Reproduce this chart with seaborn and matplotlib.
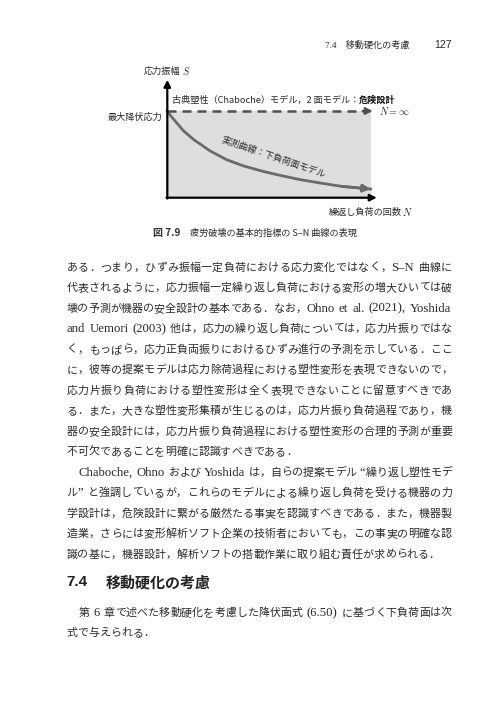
import re
import matplotlib
matplotlib.use('Agg')
import pandas as pd
import matplotlib.pyplot as plt
import seaborn as sns

# S-N curve (N in arbitrary units, S relative to max yield stress)
cycles = [0.0, 0.15, 0.4, 0.8, 1.3, 2.1, 2.9, 3.7, 4.6, 5.5, 6.5, 7.5, 8.6, 10.0]
amplitude = [1.0, 0.95, 0.88, 0.77, 0.67, 0.54, 0.44, 0.37, 0.31, 0.26, 0.21, 0.17, 0.13, 0.10]
yield_level = 1.0
region_end = 10.0
dashed_end = 10.1
x_axis_end = 10.3
y_axis_end = 1.36

# figure labels
s_label = '応力振幅'
yield_label = '最大降伏応力'
classic_label = '古典塑性（Chaboche）モデル，2 面モデル：'
danger_label = '危険設計'
curve_label = '実測曲線：下負荷面モデル'
n_label = '繰返し負荷の回数'
caption_num = '図 7.9'
caption_text = '疲労破壊の基本的指標の S–N 曲線の表現'

# page text
header_title = '7.4　移動硬化の考慮'
page_number = '127'
para1 = [
    'ある．つまり，ひずみ振幅一定負荷における応力変化ではなく，S–N 曲線に',
    '代表されるように，応力振幅一定繰り返し負荷における変形の増大ひいては破',
    '壊の予測が機器の安全設計の基本である．なお，Ohno et al. (2021), Yoshida',
    'and Uemori (2003) 他は，応力の繰り返し負荷については，応力片振りではな',
    'く，もっぱら，応力正負両振りにおけるひずみ進行の予測を示している．ここ',
    'に，彼等の提案モデルは応力除荷過程における塑性変形を表現できないので，',
    '応力片振り負荷における塑性変形は全く表現できないことに留意すべきであ',
    'る．また，大きな塑性変形集積が生じるのは，応力片振り負荷過程であり，機',
    '器の安全設計には，応力片振り負荷過程における塑性変形の合理的予測が重要',
    '不可欠であることを明確に認識すべきである．',
]
para2 = [
    'Chaboche, Ohno および Yoshida は，自らの提案モデル “繰り返し塑性モデ',
    'ル” と強調しているが，これらのモデルによる繰り返し負荷を受ける機器の力',
    '学設計は，危険設計に繋がる厳然たる事実を認識すべきである．また，機器製',
    '造業，さらには変形解析ソフト企業の技術者においても，この事実の明確な認',
    '識の基に，機器設計，解析ソフトの搭載作業に取り組む責任が求められる．',
]
section_num = '7.4'
section_title = '移動硬化の考慮'
para3 = [
    '第 6 章で述べた移動硬化を考慮した降伏面式 (6.50) に基づく下負荷面は次',
    '式で与えられる．',
]

plt.rcParams['mathtext.fontset'] = 'cm'
cjk = ['Noto Sans CJK JP', 'DejaVu Sans']
mixed = ['Liberation Serif', 'Noto Sans CJK JP']
ink = '#2a2a2a'
latin_run = r'[\x21-\x7e–“”]+'

W, H = 500, 711
fig = plt.figure(figsize=(W / 100, H / 100), dpi=100)
renderer = fig.canvas.get_renderer()


def fx(x):
    return x / W


def fy(y):
    return 1 - y / H


def put(x, y, s, size, ha='left', family=cjk, va='center', **kw):
    kw.setdefault('color', ink)
    return fig.text(fx(x), fy(y), s, fontsize=size, ha=ha, va=va,
                    family=family, **kw)


def body_line(s, y, left, justify, right=452, size=7.9, latin_size=9.2):
    # latin words stay whole; each japanese character takes a 1 em cell
    em = size * 100 / 72
    tokens = re.findall(latin_run + r'| +|.', s)
    base = y + em * 0.38
    pieces = []
    for tok in tokens:
        if tok.strip() == '':
            pieces.append((None, em * 0.3 * len(tok), 0))
        elif re.fullmatch(latin_run, tok):
            t = put(left, base, tok, latin_size, family=mixed, va='baseline')
            pieces.append((t, t.get_window_extent(renderer).width + 1.0, 0.3))
        else:
            pieces.append((put(left, base, tok, size, va='baseline'), em, 0))
    natural = sum(p[1] for p in pieces)
    gap = (right - left - natural) / (len(pieces) - 1) if justify else 0
    x = left
    for t, w, off in pieces:
        if t is not None:
            t.set_x(fx(x + off))
        x += w + gap


# --- chart ---
x0, sx = 167.3, 20.34   # pixel of N=0, pixels per unit
y0, sy = 197.7, 86.7    # pixel of S=0, pixels per unit
xl, yl = (-0.2, 10.45), (-0.04, 1.42)
left_px, right_px = x0 + xl[0] * sx, x0 + xl[1] * sx
bot_px, top_px = y0 - yl[0] * sy, y0 - yl[1] * sy
ax = fig.add_axes([left_px / W, 1 - bot_px / H,
                   (right_px - left_px) / W, (bot_px - top_px) / H])

ax.fill_between([0, region_end], 0, yield_level, color='#dedede', lw=0)

df = pd.DataFrame({'N': cycles, 'S': amplitude})
sns.lineplot(data=df, x='N', y='S', ax=ax, color='#6a6a6a', lw=2.0)
ax.annotate('', xy=(cycles[-1], amplitude[-1]), xytext=(cycles[-2], amplitude[-2]),
            arrowprops=dict(arrowstyle='-|>', color='#6a6a6a', lw=2.0,
                            mutation_scale=11, shrinkA=0, shrinkB=0))

ax.plot([0, dashed_end - 0.4], [yield_level, yield_level], color='#505050',
        lw=1.8, linestyle=(0, (3.6, 2.4)))
ax.annotate('', xy=(dashed_end, yield_level), xytext=(dashed_end - 0.5, yield_level),
            arrowprops=dict(arrowstyle='-|>', color='#505050', lw=1.6,
                            mutation_scale=10, shrinkA=0, shrinkB=0))

axis_arrow = dict(arrowstyle='-|>', color='black', lw=1.6, mutation_scale=10,
                  shrinkA=0, shrinkB=0)
ax.annotate('', xy=(0, y_axis_end), xytext=(0, -0.01), arrowprops=axis_arrow)
ax.annotate('', xy=(x_axis_end, 0), xytext=(-0.04, 0), arrowprops=axis_arrow)

ax.set_xlim(*xl)
ax.set_ylim(*yl)
ax.axis('off')

put(144, 71, s_label, 6.6)
put(182, 71, '$S$', 7.2)
t1 = put(172, 100, classic_label, 6.6)
ax.annotate(danger_label, xy=(1, 0.5), xycoords=t1, va='center', ha='left',
            fontsize=6.6, family=cjk, weight='bold', color='#111111')
put(162, 117, yield_label, 6.6, ha='right')
put(379, 111, r'$N=\infty$', 7.2)
put(402, 212, n_label, 6.6, ha='right')
put(413, 212, '$N$', 7.2, ha='right')
ax.text(5.2, 0.47, curve_label, rotation=-19, ha='center', va='center',
        fontsize=6.6, family=cjk, color=ink, rotation_mode='anchor')

put(153, 233, caption_num, 7.2, weight='bold', color='#333333')
put(190, 233, caption_text, 6.6)

# --- page text ---
put(325, 45, header_title, 6.6, family=mixed)
put(452, 45, page_number, 7.6, ha='right', family=['Liberation Sans'])

step = 20.5
y = 266.5
for i, s in enumerate(para1):
    body_line(s, y, 66.5, i < len(para1) - 1)
    y += step
for i, s in enumerate(para2):
    body_line(s, y, 78.5 if i == 0 else 66.5, i < len(para2) - 1)
    y += step

put(66.5, 582, section_num, 11, family=['Liberation Sans'], weight='bold', color='#222222')
put(106, 582, section_title, 10.8, weight='bold', color='#222222')

body_line(para3[0], 612, 78.5, True)
body_line(para3[1], 632, 66.5, False)

fig.savefig('out.png', dpi=100)
